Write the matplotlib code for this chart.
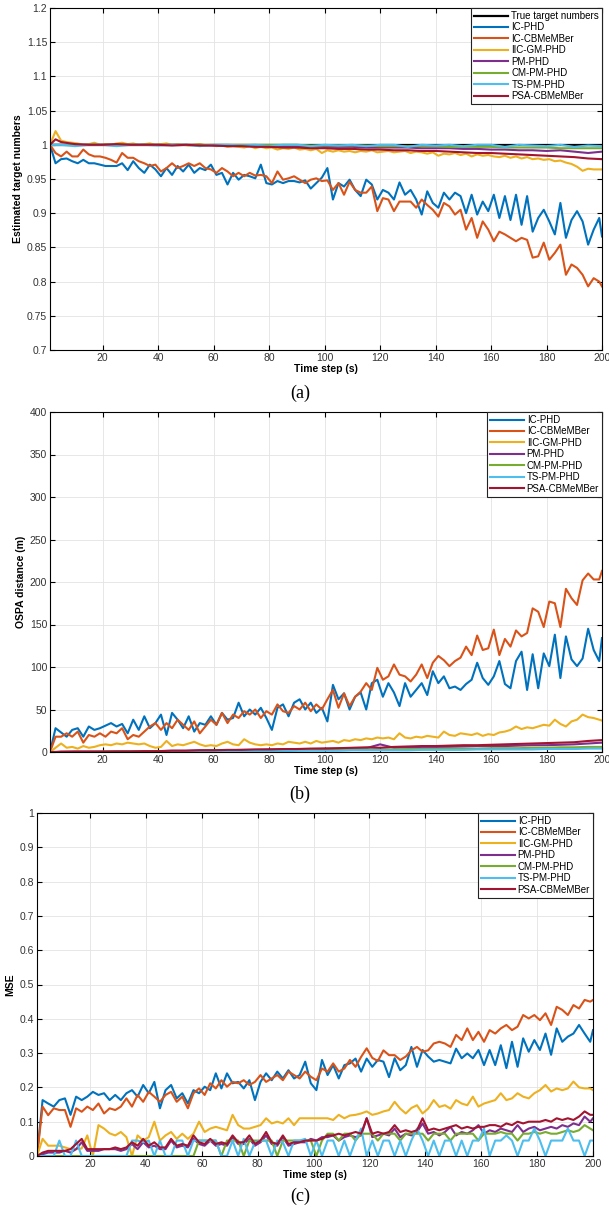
import numpy as np
import matplotlib.pyplot as plt
from matplotlib.ticker import FuncFormatter

plt.rcParams['font.family'] = ['Liberation Sans', 'DejaVu Sans']

# time steps the values were read at (every other step + the last one)
t = np.append(np.arange(1, 200, 2), 200)
# sparser steps for the almost flat curves
tc = np.r_[1, 3, np.arange(5, 201, 5)]

names = ['IC-PHD', 'IC-CBMeMBer', 'IIC-GM-PHD', 'PM-PHD', 'CM-PM-PHD', 'TS-PM-PHD', 'PSA-CBMeMBer']
colors = ['#0072BD', '#D95319', '#EDB120', '#7E2F8E', '#77AC30', '#4DBEEE', '#A2142F']

# ---------------- (a) estimated target numbers ----------------
a_true_t = [1, 200]
a_true = [1.0, 1.0]
a_ic_phd = [1.0, 0.973, 0.979, 0.98, 0.976, 0.973, 0.978, 0.973, 0.973, 0.971,
            0.969, 0.969, 0.969, 0.973, 0.963, 0.976, 0.966, 0.959, 0.971, 0.964,
            0.954, 0.966, 0.956, 0.969, 0.961, 0.971, 0.959, 0.966, 0.963, 0.971,
            0.956, 0.959, 0.942, 0.959, 0.949, 0.956, 0.954, 0.951, 0.971, 0.944,
            0.942, 0.947, 0.944, 0.947, 0.947, 0.945, 0.948, 0.936, 0.944, 0.952,
            0.966, 0.92, 0.944, 0.939, 0.949, 0.934, 0.925, 0.949, 0.942, 0.92,
            0.934, 0.93, 0.92, 0.945, 0.927, 0.934, 0.92, 0.898, 0.932, 0.915,
            0.908, 0.93, 0.92, 0.93, 0.925, 0.9, 0.927, 0.898, 0.917, 0.903,
            0.927, 0.893, 0.925, 0.89, 0.927, 0.883, 0.925, 0.873, 0.893, 0.905,
            0.888, 0.869, 0.915, 0.864, 0.89, 0.903, 0.888, 0.854, 0.876, 0.893,
            0.866]
a_ic_cb = [1.0, 0.988, 0.983, 0.990, 0.983, 0.983, 0.993, 0.986, 0.983, 0.983,
           0.981, 0.978, 0.974, 0.988, 0.981, 0.981, 0.976, 0.973, 0.969, 0.971,
           0.961, 0.966, 0.973, 0.966, 0.969, 0.973, 0.969, 0.973, 0.966, 0.964,
           0.959, 0.966, 0.961, 0.954, 0.959, 0.954, 0.959, 0.955, 0.956, 0.954,
           0.944, 0.961, 0.949, 0.951, 0.954, 0.949, 0.944, 0.949, 0.951, 0.947,
           0.948, 0.934, 0.944, 0.927, 0.946, 0.934, 0.93, 0.93, 0.939, 0.903,
           0.922, 0.92, 0.903, 0.917, 0.917, 0.917, 0.908, 0.92, 0.912, 0.905,
           0.895, 0.915, 0.91, 0.898, 0.905, 0.876, 0.893, 0.864, 0.888, 0.876,
           0.859, 0.873, 0.869, 0.864, 0.859, 0.864, 0.861, 0.835, 0.837, 0.857,
           0.832, 0.842, 0.854, 0.81, 0.825, 0.82, 0.81, 0.793, 0.805, 0.8,
           0.793]
a_iic = [1.0, 1.02, 1.006, 1.004, 1.003, 1.002, 1.0, 1.001, 1.003, 1.0,
         1.001, 1.0, 1.002, 1.003, 1.001, 1.002, 1.0, 1.001, 1.002, 1.0,
         1.001, 1.002, 1.0, 1.001, 1.0, 0.999, 1.0, 1.001, 0.999, 1.0,
         0.998, 0.999, 0.997, 0.998, 0.997, 0.996, 0.998, 0.995, 0.997, 0.995,
         0.996, 0.993, 0.995, 0.994, 0.996, 0.993, 0.994, 0.992, 0.994, 0.988,
         0.992, 0.99, 0.992, 0.99, 0.991, 0.989, 0.991, 0.99, 0.992, 0.989,
         0.99, 0.991, 0.989, 0.99, 0.991, 0.988, 0.99, 0.989, 0.987, 0.989,
         0.984, 0.987, 0.986, 0.988, 0.985, 0.987, 0.983, 0.986, 0.984, 0.985,
         0.983, 0.982, 0.984, 0.981, 0.983, 0.98, 0.982, 0.979, 0.98, 0.978,
         0.979, 0.976, 0.977, 0.974, 0.972, 0.968, 0.962, 0.965, 0.964, 0.964,
         0.964]
a_pm = [1.0, 1.0, 1.0, 1.0, 1.0, 1.0, 1.0, 1.0, 1.0, 1.0,
        1.0, 1.0, 1.0, 0.999, 0.999, 0.999, 0.999, 0.998, 0.998, 0.998,
        0.998, 0.997, 0.997, 0.997, 0.996, 0.996, 0.996, 0.996, 0.995, 0.995,
        0.995, 0.994, 0.994, 0.993, 0.993, 0.992, 0.992, 0.991, 0.992, 0.99,
        0.988, 0.99]
a_cm = [1.0, 1.0, 1.0, 1.0, 1.0, 1.0, 1.0, 1.0, 1.0, 1.0,
        1.0, 1.0, 1.0, 1.0, 1.0, 1.0, 1.0, 1.0, 1.0, 1.0,
        0.999, 0.999, 0.999, 0.999, 0.999, 0.998, 0.998, 0.998, 0.998, 0.998,
        0.997, 0.997, 0.997, 0.997, 0.996, 0.996, 0.996, 0.996, 0.995, 0.995,
        0.995, 0.995]
a_ts = [1.0, 1.0, 1.0, 0.998, 1.0, 1.0, 0.998, 1.0, 1.0, 0.999,
        1.0, 1.0, 0.998, 1.0, 1.0, 0.999, 1.0, 0.998, 1.0, 1.0,
        0.998, 1.0, 0.999, 1.0, 0.998, 1.0, 1.0, 0.997, 1.0, 0.999,
        1.0, 0.998, 1.0, 1.0, 0.997, 1.0, 0.999, 0.998, 1.0, 0.997,
        0.999, 0.998]
a_psa = [1.0, 1.008, 1.004, 1.001, 1.0, 1.0, 1.001, 1.0, 1.0, 1.0,
         0.999, 1.0, 0.999, 0.999, 0.998, 0.998, 0.997, 0.997, 0.996, 0.996,
         0.995, 0.995, 0.994, 0.994, 0.993, 0.993, 0.992, 0.992, 0.991, 0.991,
         0.99, 0.989, 0.988, 0.988, 0.987, 0.986, 0.985, 0.984, 0.983, 0.982,
         0.98, 0.979]

# ---------------- (b) OSPA distance ----------------
b_ic_phd = [0, 28, 23, 18, 26, 28, 18, 30, 26, 28,
            31, 34, 30, 33, 22, 38, 26, 42, 28, 34,
            44, 20, 46, 38, 28, 42, 24, 34, 32, 42,
            32, 46, 38, 40, 58, 42, 50, 44, 52, 40,
            26, 52, 56, 42, 58, 62, 50, 58, 46, 52,
            36, 79, 62, 69, 50, 65, 70, 50, 81, 85,
            65, 81, 70, 54, 81, 65, 73, 81, 67, 95,
            81, 89, 75, 77, 73, 80, 85, 105, 87, 79,
            89, 107, 80, 75, 107, 118, 73, 115, 75, 116,
            101, 138, 87, 136, 109, 101, 110, 145, 120, 107,
            134]
b_ic_cb = [0, 18, 18, 22, 18, 24, 11, 20, 18, 22,
           18, 24, 22, 28, 15, 20, 18, 24, 30, 34,
           26, 34, 28, 38, 32, 26, 36, 22, 30, 38,
           32, 46, 34, 44, 40, 48, 44, 50, 40, 48,
           44, 56, 48, 46, 54, 50, 58, 48, 56, 50,
           62, 73, 52, 69, 54, 65, 71, 81, 73, 99,
           85, 89, 103, 91, 89, 83, 91, 103, 87, 105,
           113, 108, 101, 107, 111, 124, 114, 137, 120, 122,
           144, 114, 133, 124, 143, 136, 140, 169, 165, 147,
           177, 175, 147, 192, 181, 173, 202, 210, 203, 203,
           213]
b_iic = [0, 5, 10, 5, 6, 4, 7, 5, 6, 8,
         9, 8, 10, 9, 11, 10, 9, 10, 7, 5,
         6, 13, 7, 9, 8, 10, 12, 9, 7, 8,
         7, 10, 12, 9, 8, 15, 11, 9, 8, 9,
         8, 10, 9, 12, 11, 10, 12, 10, 13, 11,
         12, 13, 11, 14, 13, 15, 14, 16, 15, 17,
         16, 17, 15, 22, 17, 16, 18, 17, 19, 18,
         17, 24, 20, 19, 22, 21, 20, 22, 19, 21,
         20, 23, 24, 26, 30, 27, 29, 28, 30, 32,
         31, 38, 33, 30, 36, 38, 44, 41, 40, 38,
         37]
b_pm = [0, 0, 0, 0.5, 0.5, 0.5, 1, 1, 1, 1,
        1.5, 1.5, 2, 2, 2, 2.5, 2.5, 3, 3, 3.5,
        3.5, 4, 4, 4.5, 4.5, 9, 5, 5.5, 6, 6,
        6, 6.5, 7, 7, 7, 7.5, 8, 8, 8.5, 9,
        10, 11]
b_cm = [0, 0, 0, 0, 0, 0.5, 0.5, 0.5, 0.5, 1,
        1, 1, 1, 1.5, 1.5, 1.5, 2, 2, 2, 2,
        2.5, 2.5, 2.5, 3, 3, 3, 3, 3.5, 3.5, 3.5,
        4, 4, 4, 4.5, 4.5, 4.5, 5, 5, 5.5, 5.5,
        6, 6]
b_ts = [0, 0, 0, 0, 0, 0, 0, 0, 0, 0,
        0.5, 0.5, 0.5, 0.5, 1, 1, 1, 1, 1, 1.5,
        1.5, 1.5, 1.5, 2, 2, 2, 2, 2, 2.5, 2.5,
        2.5, 2.5, 3, 3, 3, 3, 3, 3.5, 3.5, 3.5,
        4, 4]
b_psa = [0, 0, 0.5, 0.5, 0.5, 0.5, 0.5, 0.5, 1, 1,
         1.5, 1.5, 2, 2, 2.5, 2.5, 3, 3, 3.5, 3.5,
         4, 4, 4.5, 5, 5.5, 5, 6, 6.5, 7, 7,
         7.5, 8, 8, 8.5, 9, 9.5, 10, 10.5, 11, 11.5,
         13, 14]

# ---------------- (c) MSE ----------------
c_ic_phd = [0, 0.163, 0.153, 0.144, 0.163, 0.168, 0.12, 0.173, 0.163, 0.173,
            0.187, 0.178, 0.183, 0.163, 0.178, 0.163, 0.183, 0.192, 0.173, 0.207,
            0.183, 0.216, 0.139, 0.192, 0.207, 0.168, 0.183, 0.153, 0.192, 0.183,
            0.202, 0.192, 0.241, 0.197, 0.241, 0.212, 0.216, 0.197, 0.221, 0.163,
            0.216, 0.241, 0.221, 0.246, 0.226, 0.25, 0.226, 0.236, 0.275, 0.212,
            0.192, 0.28, 0.236, 0.265, 0.226, 0.265, 0.27, 0.284, 0.246, 0.284,
            0.26, 0.28, 0.275, 0.23, 0.285, 0.25, 0.265, 0.318, 0.26, 0.309,
            0.29, 0.275, 0.28, 0.275, 0.27, 0.313, 0.285, 0.299, 0.285, 0.309,
            0.265, 0.309, 0.265, 0.323, 0.256, 0.333, 0.26, 0.343, 0.304, 0.338,
            0.309, 0.357, 0.295, 0.372, 0.333, 0.348, 0.357, 0.382, 0.357, 0.333,
            0.367]
c_ic_cb = [0, 0.144, 0.119, 0.139, 0.134, 0.134, 0.085, 0.139, 0.129, 0.144,
           0.134, 0.153, 0.124, 0.139, 0.134, 0.144, 0.168, 0.144, 0.178, 0.158,
           0.187, 0.173, 0.158, 0.178, 0.187, 0.158, 0.173, 0.139, 0.183, 0.197,
           0.178, 0.212, 0.197, 0.221, 0.202, 0.216, 0.212, 0.221, 0.207, 0.216,
           0.236, 0.216, 0.226, 0.236, 0.221, 0.246, 0.236, 0.226, 0.246, 0.231,
           0.221, 0.255, 0.246, 0.27, 0.246, 0.255, 0.28, 0.26, 0.289, 0.314,
           0.286, 0.277, 0.308, 0.294, 0.294, 0.28, 0.29, 0.308, 0.318, 0.304,
           0.308, 0.328, 0.333, 0.328, 0.318, 0.353, 0.338, 0.372, 0.338, 0.362,
           0.333, 0.367, 0.357, 0.372, 0.382, 0.367, 0.377, 0.411, 0.401, 0.411,
           0.396, 0.416, 0.382, 0.435, 0.426, 0.411, 0.44, 0.43, 0.455, 0.45,
           0.455]
c_iic = [0, 0.05, 0.03, 0.03, 0.03, 0.025, 0.02, 0.02, 0.022, 0.06,
         0.0, 0.09, 0.08, 0.066, 0.06, 0.07, 0.055, 0.0, 0.06, 0.045,
         0.055, 0.1, 0.045, 0.06, 0.07, 0.05, 0.065, 0.05, 0.065, 0.1,
         0.07, 0.08, 0.085, 0.08, 0.075, 0.12, 0.09, 0.08, 0.08, 0.085,
         0.09, 0.11, 0.095, 0.1, 0.095, 0.11, 0.09, 0.11, 0.11, 0.11,
         0.11, 0.11, 0.11, 0.105, 0.12, 0.11, 0.118, 0.12, 0.124, 0.13,
         0.12, 0.124, 0.13, 0.134, 0.158, 0.138, 0.124, 0.14, 0.148, 0.124,
         0.138, 0.163, 0.143, 0.148, 0.138, 0.163, 0.153, 0.148, 0.173, 0.144,
         0.153, 0.158, 0.163, 0.183, 0.163, 0.168, 0.183, 0.173, 0.168, 0.183,
         0.192, 0.207, 0.188, 0.197, 0.192, 0.197, 0.217, 0.2, 0.197, 0.197,
         0.192]
c_pm = [0, 0.005, 0.01, 0.01, 0.01, 0.015, 0.01, 0.02, 0.04, 0.015,
        0.015, 0.015, 0.02, 0.02, 0.02, 0.015, 0.02, 0.035, 0.02, 0.04,
        0.025, 0.03, 0.02, 0.02, 0.045, 0.025, 0.03, 0.025, 0.05, 0.035,
        0.03, 0.045, 0.03, 0.035, 0.03, 0.055, 0.035, 0.035, 0.05, 0.03,
        0.04, 0.06, 0.035, 0.03, 0.055, 0.03, 0.035, 0.04, 0.04, 0.05,
        0.045, 0.055, 0.055, 0.06, 0.045, 0.055, 0.06, 0.055, 0.06, 0.11,
        0.055, 0.06, 0.065, 0.06, 0.08, 0.055, 0.065, 0.06, 0.07, 0.095,
        0.065, 0.07, 0.06, 0.07, 0.085, 0.06, 0.07, 0.065, 0.075, 0.09,
        0.065, 0.075, 0.07, 0.08, 0.075, 0.07, 0.09, 0.07, 0.08, 0.085,
        0.075, 0.08, 0.085, 0.08, 0.09, 0.085, 0.095, 0.09, 0.115, 0.1,
        0.11]
c_cm = [0, 0, 0, 0, 0, 0, 0, 0, 0, 0,
        0, 0, 0, 0, 0, 0, 0, 0, 0, 0,
        0, 0, 0, 0, 0, 0, 0, 0, 0, 0.045,
        0.045, 0.045, 0.045, 0, 0.045, 0.045, 0.045, 0, 0.045, 0.045,
        0.045, 0.045, 0.045, 0, 0.045, 0.045, 0.045, 0.045, 0.045, 0.045,
        0, 0.045, 0.065, 0.065, 0.045, 0.065, 0.065, 0.045, 0.065, 0.065,
        0.065, 0.045, 0.065, 0.065, 0.065, 0.045, 0.065, 0.065, 0.065, 0.065,
        0.045, 0.065, 0.065, 0.065, 0.045, 0.065, 0.065, 0.065, 0.065, 0.045,
        0.065, 0.065, 0.065, 0.07, 0.065, 0.065, 0.045, 0.065, 0.065, 0.07,
        0.065, 0.07, 0.065, 0.065, 0.07, 0.075, 0.07, 0.075, 0.09, 0.08,
        0.075]
c_ts = [0, 0, 0, 0, 0.045, 0, 0, 0.045, 0, 0,
        0, 0, 0, 0, 0, 0, 0, 0.045, 0.045, 0.04,
        0.045, 0, 0.045, 0, 0, 0.045, 0.045, 0, 0.045, 0.045,
        0.045, 0.045, 0.045, 0, 0, 0.045, 0, 0.05, 0, 0.04,
        0.045, 0.045, 0, 0.045, 0.04, 0, 0.045, 0.045, 0.05, 0,
        0.045, 0, 0.045, 0.045, 0, 0.045, 0, 0.045, 0.08, 0,
        0.045, 0, 0.045, 0.045, 0, 0.045, 0, 0.045, 0.08, 0.045,
        0, 0.045, 0, 0.045, 0.045, 0, 0.045, 0, 0.045, 0.045,
        0.08, 0, 0.045, 0.045, 0.06, 0.045, 0, 0.045, 0.045, 0.08,
        0.045, 0, 0.045, 0.045, 0.045, 0.08, 0.045, 0.045, 0, 0.045,
        0.045]
c_psa = [0, 0.01, 0.015, 0.015, 0.015, 0.015, 0.02, 0.035, 0.05, 0.02,
         0.02, 0.02, 0.02, 0.02, 0.025, 0.02, 0.025, 0.04, 0.03, 0.05,
         0.03, 0.04, 0.025, 0.025, 0.05, 0.03, 0.035, 0.03, 0.06, 0.04,
         0.035, 0.05, 0.035, 0.04, 0.035, 0.06, 0.04, 0.04, 0.06, 0.035,
         0.045, 0.07, 0.04, 0.035, 0.06, 0.035, 0.04, 0.04, 0.045, 0.045,
         0.045, 0.05, 0.06, 0.06, 0.065, 0.06, 0.065, 0.07, 0.065, 0.11,
         0.065, 0.07, 0.065, 0.07, 0.09, 0.07, 0.075, 0.07, 0.075, 0.11,
         0.075, 0.08, 0.075, 0.08, 0.085, 0.09, 0.08, 0.085, 0.08, 0.085,
         0.085, 0.09, 0.09, 0.085, 0.095, 0.09, 0.1, 0.095, 0.1, 0.1,
         0.1, 0.105, 0.1, 0.11, 0.105, 0.11, 0.105, 0.115, 0.13, 0.12,
         0.12]


def fmt(v, pos):
    return '%g' % round(v, 3)


def draw(ax, curves, ylim, yticks, ylabel, true_line=None):
    if true_line is not None:
        ax.plot(true_line[0], true_line[1], color='black', lw=1.6, label='True target numbers')
    for (x, y), name, c in zip(curves, names, colors):
        ax.plot(x, y, color=c, lw=1.5, label=name)
    ax.set_xlim(1, 200)
    ax.set_ylim(*ylim)
    ax.set_xticks(np.arange(20, 201, 20))
    ax.set_yticks(yticks)
    ax.yaxis.set_major_formatter(FuncFormatter(fmt))
    ax.grid(True, color='#e3e3e3', lw=0.6)
    ax.set_axisbelow(True)
    ax.tick_params(direction='in', top=True, right=True, length=3.5, width=0.8,
                   labelsize=7.5, labelcolor='#333333', pad=2)
    for s in ax.spines.values():
        s.set_linewidth(0.8)
    ax.set_xlabel('Time step (s)', fontsize=7.5, fontweight='bold', labelpad=1)
    ax.set_ylabel(ylabel, fontsize=7.5, fontweight='bold', labelpad=3)
    leg = ax.legend(loc='upper right', fontsize=7, fancybox=False, edgecolor='#222222',
                    framealpha=1, borderaxespad=0, handlelength=3.5, handletextpad=0.3,
                    labelspacing=0.15, borderpad=0.3)
    leg.get_frame().set_linewidth(0.8)


fig = plt.figure(figsize=(6.09, 12.12), dpi=100)
ax1 = fig.add_axes([50 / 609, 1 - 350 / 1212, 552 / 609, 342 / 1212])
ax2 = fig.add_axes([50 / 609, 1 - 752 / 1212, 552 / 609, 340 / 1212])
ax3 = fig.add_axes([37 / 609, 1 - 1156 / 1212, 556 / 609, 343 / 1212])

draw(ax1, [(t, a_ic_phd), (t, a_ic_cb), (t, a_iic), (tc, a_pm), (tc, a_cm), (tc, a_ts), (tc, a_psa)],
     (0.7, 1.2), np.arange(0.7, 1.2001, 0.05), 'Estimated target numbers',
     true_line=(a_true_t, a_true))
draw(ax2, [(t, b_ic_phd), (t, b_ic_cb), (t, b_iic), (tc, b_pm), (tc, b_cm), (tc, b_ts), (tc, b_psa)],
     (0, 400), np.arange(0, 401, 50), 'OSPA distance (m)')
draw(ax3, [(t, c_ic_phd), (t, c_ic_cb), (t, c_iic), (t, c_pm), (t, c_cm), (t, c_ts), (t, c_psa)],
     (0, 1), np.arange(0, 1.001, 0.1), 'MSE')

for y, lab in [(393, '(a)'), (794, '(b)'), (1196, '(c)')]:
    fig.text(300 / 609, 1 - y / 1212, lab, ha='center', va='center', fontsize=13,
             family='Liberation Serif')

fig.savefig('out.png', dpi=100)
